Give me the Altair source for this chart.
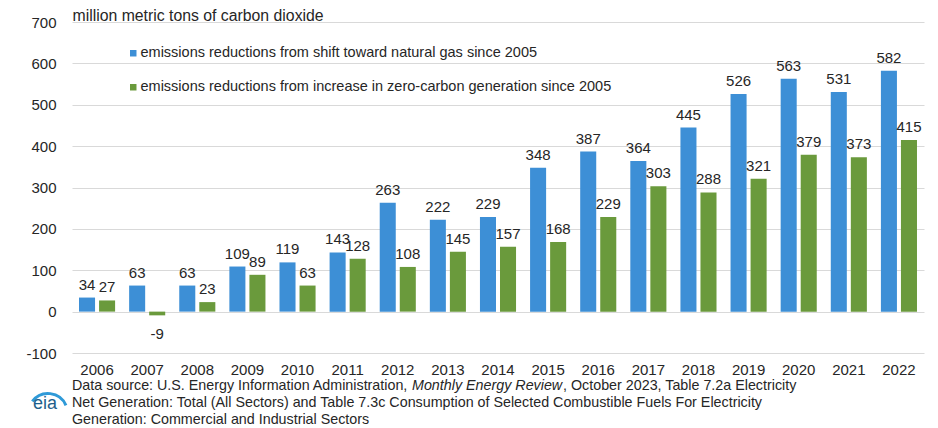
import altair as alt
import pandas as pd

years = [str(y) for y in range(2006, 2023)]
gas = [34, 63, 63, 109, 119, 143, 263, 222, 229, 348, 387, 364, 445, 526, 563, 531, 582]
zero = [27, -9, 23, 89, 63, 128, 108, 145, 157, 168, 229, 303, 288, 321, 379, 373, 415]
series_names = [
    "emissions reductions from shift toward natural gas since 2005",
    "emissions reductions from increase in zero-carbon generation since 2005",
]
colors = ["#3d8fd6", "#6a9a3c"]
y_ticks = [-100, 0, 100, 200, 300, 400, 500, 600, 700]
source_first = ["Data source: U.S. Energy Information Administration, ", "Monthly Energy Review",
                ", October 2023, Table 7.2a Electricity"]
source_line2 = "Net Generation: Total (All Sectors) and Table 7.3c Consumption of Selected Combustible Fuels For Electricity"
source_line3 = "Generation: Commercial and Industrial Sectors"

rows = []
for i, y in enumerate(years):
    rows.append({"year": y, "series": series_names[0], "value": gas[i], "label": str(gas[i])})
    rows.append({"year": y, "series": series_names[1], "value": zero[i], "label": str(zero[i])})
df = pd.DataFrame(rows)

FONT = "Liberation Sans"
TXT = "#262626"
W, H = 852, 331

x_enc = alt.X("year:N", sort=years,
              scale=alt.Scale(paddingInner=0.28, paddingOuter=0.14),
              axis=alt.Axis(title=None, labelAngle=0, domain=False, ticks=False,
                            labelPadding=9, labelFontSize=15, labelColor=TXT, labelFont=FONT))
xo_enc = alt.XOffset("series:N", sort=series_names,
                     scale=alt.Scale(paddingInner=0.2, paddingOuter=0))
y_scale = alt.Scale(domain=[-100, 700], nice=False, zero=False)

base = alt.Chart(df)

bars = base.mark_bar().encode(
    x=x_enc,
    xOffset=xo_enc,
    y=alt.Y("value:Q", scale=y_scale,
            axis=alt.Axis(values=y_ticks, title="million metric tons of carbon dioxide",
                          titleAngle=0, titleAlign="left", titleBaseline="middle",
                          titleX=0, titleY=-7, titleFont=FONT, titleFontSize=15.8,
                          titleFontWeight="normal", titleColor=TXT,
                          grid=True, gridColor="#d9d9d9", domain=False, ticks=False,
                          labelPadding=16, labelFontSize=15, labelColor=TXT,
                          labelFont=FONT, labelExpr="'' + datum.value")),
    color=alt.Color("series:N", sort=series_names,
                    scale=alt.Scale(domain=series_names, range=colors),
                    legend=alt.Legend(title=None, orient="none", legendX=54, legendY=24,
                                      direction="vertical", symbolType="square",
                                      symbolSize=42, symbolStrokeWidth=0,
                                      labelFont=FONT, labelFontSize=14.5,
                                      labelColor=TXT, labelOffset=0,
                                      rowPadding=19, padding=0, labelLimit=800)),
)

pos_labels = base.transform_filter("datum.value >= 0").mark_text(
    baseline="bottom", dy=-5, font=FONT, fontSize=15, color=TXT
).encode(x=alt.X("year:N", sort=years), xOffset=alt.XOffset("series:N", sort=series_names),
         y=alt.Y("value:Q", scale=y_scale), text="label:N")

neg_labels = base.transform_filter("datum.value < 0").mark_text(
    baseline="top", dy=12, font=FONT, fontSize=15, color=TXT
).encode(x=alt.X("year:N", sort=years), xOffset=alt.XOffset("series:N", sort=series_names),
         y=alt.Y("value:Q", scale=y_scale), text="label:N")


def note(text, x, y, italic=False):
    kw = dict(align="left", baseline="middle", font=FONT, fontSize=14.3, color=TXT)
    if italic:
        kw["fontStyle"] = "italic"
    return alt.Chart(pd.DataFrame({"t": [text]})).mark_text(**kw).encode(
        x=alt.value(x), y=alt.value(y), text="t:N")


src_a = note(source_first[0], 0, H + 33)
src_b = note(source_first[1], 340, H + 33, italic=True)
src_c = note(source_first[2], 491, H + 33)
src_2 = note(source_line2, 0, H + 50)
src_3 = note(source_line3, 0, H + 67)

logo = alt.Chart(pd.DataFrame({"t": ["eia"]})).mark_text(
    align="center", baseline="middle", font=FONT, fontSize=18, color="#1d5f8c"
).encode(x=alt.value(-27), y=alt.value(H + 51), text="t:N")
logo_arc = alt.Chart(pd.DataFrame({"a": [1]})).mark_arc(
    radius=21, radius2=18, theta=5.35, theta2=7.45, color="#2f9ad8"
).encode(x=alt.value(-24), y=alt.value(H + 60))

chart = alt.layer(bars, pos_labels, neg_labels, src_a, src_b, src_c, src_2, src_3,
                  logo_arc, logo).properties(
    width=W, height=H,
    autosize=alt.AutoSizeParams(type="none"),
    padding={"left": 64, "top": 14, "right": 6, "bottom": 85},
).configure_view(stroke=None)

chart.save("out.html", embed_options={"renderer": "svg", "actions": False})
